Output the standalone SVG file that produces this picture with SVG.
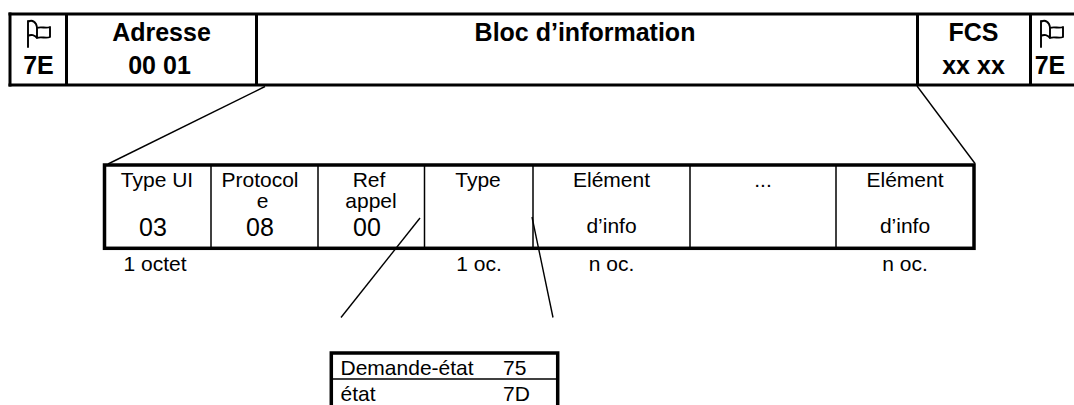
<svg xmlns="http://www.w3.org/2000/svg" width="1074" height="405" viewBox="0 0 1074 405">
  <style>
    .frame { fill: none; stroke: #000; stroke-width: 3; }
    .thick { fill: none; stroke: #000; stroke-width: 3.5; }
    .thin { fill: none; stroke: #000; stroke-width: 1.5; }
    .link { fill: none; stroke: #000; stroke-width: 1.4; }
    .hdr { font-family: "Liberation Sans", Arial, sans-serif; font-weight: bold; font-size: 25px; fill: #000; text-anchor: middle; }
    .cell { font-family: "Liberation Sans", Arial, sans-serif; font-size: 21px; fill: #000; text-anchor: middle; }
    .num { font-family: "Liberation Sans", Arial, sans-serif; font-size: 25px; fill: #000; text-anchor: middle; }
    .lst { font-family: "Liberation Sans", Arial, sans-serif; font-size: 21px; fill: #000; }
    .flag { fill: none; stroke: #000; stroke-width: 1.9; stroke-linejoin: round; stroke-linecap: round; }
  </style>
  <defs>
    <!-- flag pictogram used for the 7E delimiters -->
    <g id="flagIcon">
      <path class="flag" d="M0,27 V1 M0,2 C3,0 6,1 8,4 C9,6 9,8 9,9 L9,18 C7,15 3,14 0,16 M9,8 C13,6 18,9 22,7 L22,17 C18,19 13,16 9,18"/>
    </g>
  </defs>

  <!-- HDLC frame -->
  <g id="frame">
    <line class="frame" x1="8.5" y1="14" x2="1074" y2="14"/>
    <line class="frame" x1="8.5" y1="85" x2="1074" y2="85"/>
    <line class="frame" x1="10" y1="12.5" x2="10" y2="86.5"/>
    <line class="frame" x1="66.5" y1="14" x2="66.5" y2="85"/>
    <line class="frame" x1="256.5" y1="14" x2="256.5" y2="85"/>
    <line class="frame" x1="917.5" y1="14" x2="917.5" y2="85"/>
    <line class="frame" x1="1030.5" y1="14" x2="1030.5" y2="85"/>
  </g>
  <g id="flag-start">
    <use href="#flagIcon" x="28" y="20"/>
    <text class="hdr" x="38.5" y="74">7E</text>
  </g>
  <g id="address">
    <text class="hdr" x="161.5" y="41">Adresse</text>
    <text class="hdr" x="159.5" y="74">00 01</text>
  </g>
  <g id="info-block">
    <text class="hdr" x="585" y="41">Bloc d’information</text>
  </g>
  <g id="fcs">
    <text class="hdr" x="973.5" y="41">FCS</text>
    <text class="hdr" x="973.5" y="74">xx xx</text>
  </g>
  <g id="flag-end">
    <use href="#flagIcon" x="1041" y="20"/>
    <text class="hdr" x="1050" y="74">7E</text>
  </g>

  <!-- information block detail -->
  <g id="info-fields">
    <rect class="thick" x="104.5" y="165" width="869.5" height="83.3"/>
    <line class="thin" x1="211" y1="165" x2="211" y2="248.3"/>
    <line class="thin" x1="318" y1="165" x2="318" y2="248.3"/>
    <line class="thin" x1="424.5" y1="165" x2="424.5" y2="248.3"/>
    <line class="thin" x1="533" y1="165" x2="533" y2="248.3"/>
    <line class="thin" x1="690" y1="165" x2="690" y2="248.3"/>
    <line class="thin" x1="836" y1="165" x2="836" y2="248.3"/>
  </g>
  <g id="field-type-ui">
    <text class="cell" x="157" y="187">Type UI</text>
    <text class="num" x="153" y="236">03</text>
    <text class="cell" x="155" y="271">1 octet</text>
  </g>
  <g id="field-protocole">
    <text class="cell" x="260" y="187">Protocol</text>
    <text class="cell" x="262.5" y="208">e</text>
    <text class="num" x="260" y="236">08</text>
  </g>
  <g id="field-ref-appel">
    <text class="cell" x="369" y="187">Ref</text>
    <text class="cell" x="371" y="208">appel</text>
    <text class="num" x="367" y="236">00</text>
  </g>
  <g id="field-type">
    <text class="cell" x="478" y="187">Type</text>
    <text class="cell" x="479" y="271">1 oc.</text>
  </g>
  <g id="field-element-1">
    <text class="cell" x="611.5" y="187">Elément</text>
    <text class="cell" x="611.5" y="233">d’info</text>
    <text class="cell" x="611.5" y="271">n oc.</text>
  </g>
  <g id="field-more">
    <text class="cell" x="763" y="187">...</text>
  </g>
  <g id="field-element-n">
    <text class="cell" x="905" y="187">Elément</text>
    <text class="cell" x="905" y="233">d’info</text>
    <text class="cell" x="905" y="271">n oc.</text>
  </g>

  <!-- message type values -->
  <g id="type-values">
    <rect class="thick" x="331.3" y="353" width="226.4" height="60"/>
    <line class="thin" x1="331.3" y1="379" x2="557.7" y2="379"/>
    <text class="lst" x="340.5" y="375">Demande-état</text>
    <text class="lst" x="503" y="375">75</text>
    <text class="lst" x="340.5" y="401">état</text>
    <text class="lst" x="503" y="401">7D</text>
  </g>

  <!-- expansion lines -->
  <g id="connectors">
    <line class="link" x1="265" y1="86.5" x2="108" y2="164"/>
    <line class="link" x1="917" y1="86" x2="975" y2="163.5"/>
    <line class="link" x1="420" y1="218" x2="341" y2="317.5"/>
    <line class="link" x1="532" y1="217" x2="553" y2="317.5"/>
  </g>
</svg>
